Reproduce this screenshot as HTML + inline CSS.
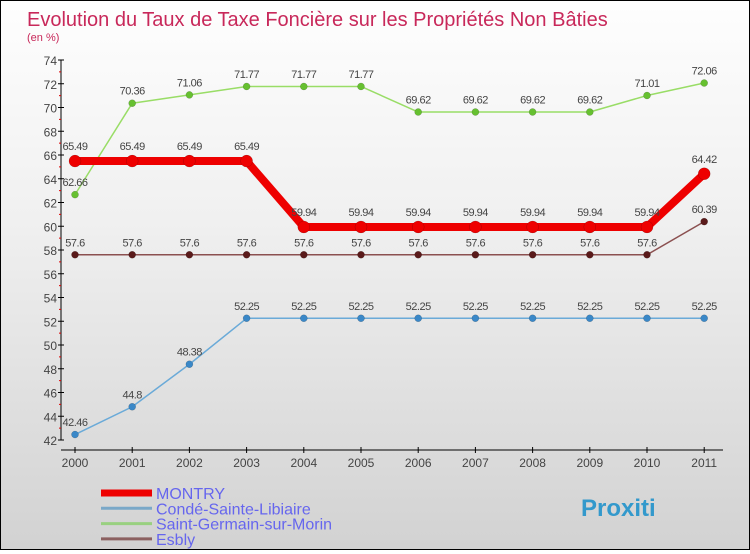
<!DOCTYPE html>
<html><head><meta charset="utf-8"><style>
body{margin:0;width:750px;height:550px;overflow:hidden;font-family:"Liberation Sans",sans-serif}
#wrap{position:relative;width:748px;height:548px;border:1px solid #000;background:linear-gradient(#fefefe,#f0f0f0 40%,#d2d2d2)}
</style></head><body>
<div id="wrap">
<svg id="chart" width="748" height="548"></svg>
</div>
<script>
const years=[2000,2001,2002,2003,2004,2005,2006,2007,2008,2009,2010,2011];
const montry=[65.49,65.49,65.49,65.49,59.94,59.94,59.94,59.94,59.94,59.94,59.94,64.42];
const conde=[42.46,44.8,48.38,52.25,52.25,52.25,52.25,52.25,52.25,52.25,52.25,52.25];
const stgermain=[62.66,70.36,71.06,71.77,71.77,71.77,69.62,69.62,69.62,69.62,71.01,72.06];
const esbly=[57.6,57.6,57.6,57.6,57.6,57.6,57.6,57.6,57.6,57.6,57.6,60.39];
const yTicks=[42,44,46,48,50,52,54,56,58,60,62,64,66,68,70,72,74];
const names=["MONTRY","Condé-Sainte-Libiaire","Saint-Germain-sur-Morin","Esbly"];
const NS="http://www.w3.org/2000/svg";
const svg=document.getElementById('chart');
function X(i){return 74+i*57.2;}
function Y(v){return 439-(v-42)*11.875;}
function el(t,a,p){const e=document.createElementNS(NS,t);for(const k in a)e.setAttribute(k,a[k]);(p||svg).appendChild(e);return e;}
let t=el('text',{x:26,y:25,fill:'#c8285a','font-size':20});t.textContent='Evolution du Taux de Taxe Foncière sur les Propriétés Non Bâties';

t=el('text',{x:26,y:40,fill:'#c8285a','font-size':11});t.textContent='(en %)';

let ax=el('line',{x1:60,y1:Y(74),x2:60,y2:Y(42),stroke:'#000'});

yTicks.forEach(v=>{el('line',{x1:57,x2:63,y1:Y(v),y2:Y(v),stroke:'#000'});
 if(v<74){const m=el('line',{x1:58,x2:60,y1:Y(v+1),y2:Y(v+1),stroke:'#d00'});
  }
 const l=el('text',{x:56,y:Y(v)+5,'text-anchor':'end','font-size':12,fill:'#444'});l.textContent=v;
 });
ax=el('line',{x1:60,y1:449,x2:722,y2:449,stroke:'#000'});

years.forEach((y,i)=>{el('line',{x1:X(i),x2:X(i),y1:446,y2:452,stroke:'#000'});
 const l=el('text',{x:X(i),y:466,'text-anchor':'middle','font-size':12,fill:'#444'});l.textContent=y;
 });
function series(data,color,w,r,dot,name){
 const g=el('g',{});
 el('polyline',{points:data.map((v,i)=>X(i)+','+Y(v)).join(' '),fill:'none',stroke:color,'stroke-width':w,'stroke-linejoin':'round'},g);
 data.forEach((v,i)=>{const c=el('circle',{cx:X(i),cy:Y(v),r:r,fill:dot,stroke:'#0004','stroke-width':0.5},g);
  
  const l=el('text',{x:X(i),y:Y(v)-(r+5),'text-anchor':'middle','font-size':11,fill:'#444','letter-spacing':'-0.5'},g);
  l.textContent=String(v);});
}
series(conde,'#6aaad8',1.5,3.5,'#3a88c8','conde-series');
series(esbly,'#8b5050',1.5,3.5,'#5a1a1a','esbly-series');
series(stgermain,'#99dd66',1.5,3.5,'#66c030','saint-germain-series');
series(montry,'#ee0000',8,6,'#ee0000','montry-series');
const lc=['#ee0000','#7aa8c8','#99d080','#8b6060'],lw=[7,3,3,3];
names.forEach((n,i)=>{const yy=492+i*15.3;
 const g=el('g',{});
 el('line',{x1:100,x2:151,y1:yy,y2:yy,stroke:lc[i],'stroke-width':lw[i]},g);
 const l=el('text',{x:155,y:yy+6,'font-size':16,fill:'#6666ee'},g);l.textContent=n;});
t=el('text',{x:580,y:515,'font-size':24,'font-weight':'bold',fill:'#3399cc'});t.textContent='Proxiti';

</script>
</body></html>
